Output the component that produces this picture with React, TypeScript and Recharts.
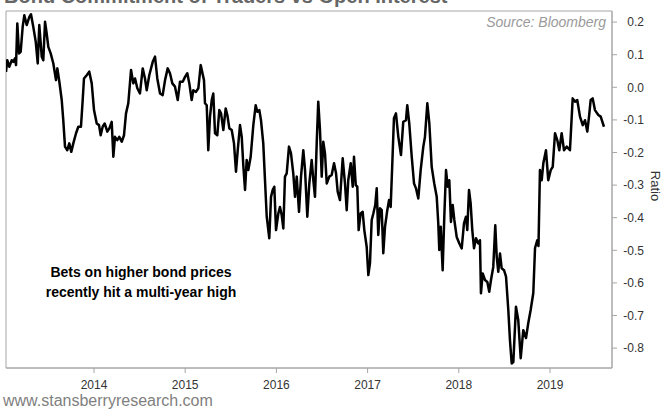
import { LineChart, Line, XAxis, YAxis, ReferenceArea } from 'recharts';

const FONT = '"Liberation Sans", Arial, sans-serif';

// weekly readings (decimal years)
const dates = [
  2013.035, 2013.049, 2013.071, 2013.098, 2013.115, 2013.134, 2013.145, 2013.159, 2013.178, 2013.196,
  2013.218, 2013.236, 2013.262, 2013.291, 2013.309, 2013.334, 2013.361, 2013.383, 2013.4, 2013.427,
  2013.444, 2013.463, 2013.481, 2013.499, 2013.525, 2013.554, 2013.583, 2013.598, 2013.62, 2013.646,
  2013.663, 2013.682, 2013.707, 2013.729, 2013.751, 2013.773, 2013.803, 2013.828, 2013.857, 2013.876,
  2013.89, 2013.92, 2013.948, 2013.975, 2014.0, 2014.03, 2014.055, 2014.073, 2014.095, 2014.117,
  2014.146, 2014.168, 2014.194, 2014.212, 2014.23, 2014.255, 2014.277, 2014.304, 2014.329, 2014.351,
  2014.376, 2014.406, 2014.431, 2014.45, 2014.475, 2014.504, 2014.534, 2014.559, 2014.578, 2014.606,
  2014.644, 2014.669, 2014.694, 2014.724, 2014.753, 2014.779, 2014.808, 2014.833, 2014.859, 2014.888,
  2014.918, 2014.943, 2014.973, 2014.998, 2015.023, 2015.045, 2015.071, 2015.089, 2015.118, 2015.144,
  2015.17, 2015.206, 2015.217, 2015.236, 2015.253, 2015.272, 2015.291, 2015.308, 2015.327, 2015.352,
  2015.374, 2015.393, 2015.418, 2015.444, 2015.462, 2015.484, 2015.51, 2015.535, 2015.557, 2015.576,
  2015.601, 2015.62, 2015.637, 2015.656, 2015.674, 2015.692, 2015.718, 2015.747, 2015.773, 2015.791,
  2015.813, 2015.831, 2015.856, 2015.875, 2015.894, 2015.922, 2015.941, 2015.959, 2015.977, 2015.996,
  2016.021, 2016.039, 2016.058, 2016.076, 2016.094, 2016.113, 2016.138, 2016.16, 2016.185, 2016.204,
  2016.223, 2016.248, 2016.27, 2016.295, 2016.314, 2016.339, 2016.361, 2016.387, 2016.405, 2016.423,
  2016.442, 2016.459, 2016.478, 2016.497, 2016.514, 2016.533, 2016.552, 2016.58, 2016.606, 2016.632,
  2016.654, 2016.672, 2016.697, 2016.727, 2016.752, 2016.771, 2016.788, 2016.815, 2016.837, 2016.851,
  2016.87, 2016.887, 2016.902, 2016.924, 2016.946, 2016.964, 2016.99, 2017.008, 2017.026, 2017.045,
  2017.063, 2017.084, 2017.1, 2017.117, 2017.136, 2017.155, 2017.172, 2017.191, 2017.216, 2017.235,
  2017.253, 2017.271, 2017.289, 2017.311, 2017.337, 2017.366, 2017.391, 2017.421, 2017.435, 2017.457,
  2017.484, 2017.509, 2017.531, 2017.556, 2017.582, 2017.611, 2017.629, 2017.655, 2017.677, 2017.703,
  2017.731, 2017.758, 2017.775, 2017.786, 2017.802, 2017.823, 2017.841, 2017.86, 2017.878, 2017.896,
  2017.914, 2017.933, 2017.951, 2017.977, 2018.006, 2018.032, 2018.057, 2018.079, 2018.093, 2018.112,
  2018.13, 2018.148, 2018.167, 2018.189, 2018.214, 2018.232, 2018.243, 2018.262, 2018.287, 2018.313,
  2018.334, 2018.353, 2018.378, 2018.4, 2018.416, 2018.433, 2018.452, 2018.47, 2018.496, 2018.518,
  2018.543, 2018.561, 2018.58, 2018.598, 2018.627, 2018.652, 2018.679, 2018.707, 2018.737, 2018.762,
  2018.788, 2018.817, 2018.836, 2018.861, 2018.874, 2018.89, 2018.909, 2018.927, 2018.956, 2018.981,
  2019.008, 2019.03, 2019.055, 2019.08, 2019.102, 2019.128, 2019.154, 2019.183, 2019.219, 2019.249,
  2019.274, 2019.299, 2019.329, 2019.359, 2019.384, 2019.409, 2019.428, 2019.446, 2019.468, 2019.493,
  2019.53, 2019.556, 2019.592,
];

const ratio = [
  0.047, 0.083, 0.063, 0.083, 0.078, 0.089, 0.068, 0.196, 0.104, 0.109,
  0.186, 0.221, 0.191, 0.216, 0.224, 0.186, 0.14, 0.073, 0.191, 0.094,
  0.083, 0.201, 0.165, 0.124, 0.104, 0.073, 0.022, 0.058, 0.017, -0.039,
  -0.101, -0.182, -0.193, -0.172, -0.198, -0.172, -0.141, -0.121, -0.121, -0.039,
  0.027, 0.037, 0.048, 0.012, -0.07, -0.111, -0.116, -0.147, -0.121, -0.111,
  -0.136, -0.126, -0.106, -0.213, -0.152, -0.162, -0.152, -0.167, -0.147, -0.08,
  -0.049, 0.053, 0.012, 0.027, -0.003, -0.019, 0.058, 0.027, -0.009, 0.037,
  0.078, 0.094, 0.027, -0.019, -0.024, 0.022, 0.058, 0.043, 0.012, 0.002,
  -0.039, 0.017, 0.017, 0.032, 0.043, 0.012, -0.039, -0.009, -0.014, -0.003,
  0.068, 0.022, -0.049, -0.055, -0.193, -0.09, -0.039, -0.019, -0.141, -0.147,
  -0.07, -0.08, -0.131, -0.065, -0.085, -0.126, -0.131, -0.172, -0.259, -0.193,
  -0.116, -0.152, -0.239, -0.315, -0.223, -0.254, -0.213, -0.116, -0.055, -0.075,
  -0.07, -0.101, -0.172, -0.285, -0.397, -0.463, -0.336, -0.315, -0.305, -0.438,
  -0.387, -0.367, -0.392, -0.433, -0.274, -0.264, -0.182, -0.203, -0.264, -0.336,
  -0.274, -0.382, -0.274, -0.193, -0.254, -0.397, -0.295, -0.223, -0.285, -0.336,
  -0.172, -0.044, -0.131, -0.274, -0.167, -0.203, -0.295, -0.274, -0.269, -0.233,
  -0.264, -0.32, -0.346, -0.218, -0.295, -0.377, -0.285, -0.233, -0.305, -0.213,
  -0.3, -0.305, -0.438, -0.387, -0.382, -0.438, -0.489, -0.576, -0.54, -0.407,
  -0.387, -0.361, -0.31, -0.453, -0.371, -0.377, -0.509, -0.428, -0.377, -0.346,
  -0.367, -0.233, -0.095, -0.08, -0.152, -0.208, -0.106, -0.101, -0.055, -0.111,
  -0.213, -0.295, -0.31, -0.341, -0.254, -0.182, -0.152, -0.049, -0.111, -0.244,
  -0.295, -0.336, -0.417, -0.499, -0.428, -0.561, -0.397, -0.254, -0.305, -0.285,
  -0.413, -0.361, -0.407, -0.459, -0.479, -0.494, -0.417, -0.397, -0.438, -0.315,
  -0.356, -0.438, -0.494, -0.463, -0.479, -0.469, -0.632, -0.571, -0.591, -0.597,
  -0.627, -0.591, -0.551, -0.423, -0.52, -0.566, -0.51, -0.555, -0.561, -0.581,
  -0.683, -0.775, -0.847, -0.843, -0.673, -0.714, -0.831, -0.745, -0.769, -0.723,
  -0.683, -0.631, -0.493, -0.469, -0.487, -0.254, -0.285, -0.233, -0.193, -0.285,
  -0.254, -0.244, -0.141, -0.162, -0.193, -0.141, -0.193, -0.182, -0.193, -0.034,
  -0.044, -0.039, -0.09, -0.116, -0.101, -0.136, -0.09, -0.039, -0.034, -0.07,
  -0.085, -0.09, -0.121,
];

const xTicks = [2014, 2015, 2016, 2017, 2018, 2019];
const yTicks = [0.2, 0.1, 0, -0.1, -0.2, -0.3, -0.4, -0.5, -0.6, -0.7, -0.8];
const xDomain: [number, number] = [2013.035, 2019.68];
const yDomain: [number, number] = [-0.861, 0.234];

const data = dates.map((d, i) => ({ date: d, ratio: ratio[i] }));

function RightTick(props: any) {
  const { x, y, payload } = props;
  return (
    <text x={x + 25} y={y} dy="0.355em" textAnchor="end" fontSize={12} fill="#333" fontFamily={FONT}>
      {Number(payload.value).toFixed(1)}
    </text>
  );
}

export default function App() {
  return (
    <div style={{ position: 'absolute', left: 0, top: 0, width: 663, height: 410, background: '#fff', overflow: 'hidden' }}>
      <LineChart width={663} height={410} data={data} margin={{ top: 11, right: 0, bottom: 0, left: 6 }}>
        <XAxis
          dataKey="date"
          type="number"
          domain={xDomain}
          ticks={xTicks}
          interval={0}
          allowDataOverflow
          height={42}
          tickSize={5}
          tickMargin={7}
          axisLine={{ stroke: '#a6a6a6' }}
          tickLine={{ stroke: '#a6a6a6' }}
          tick={{ fontSize: 12, fill: '#333', fontFamily: FONT }}
          tickFormatter={(v) => String(v)}
        />
        <YAxis
          orientation="right"
          type="number"
          domain={yDomain}
          ticks={yTicks}
          interval={0}
          allowDataOverflow
          width={51}
          tickSize={5}
          axisLine={{ stroke: '#a6a6a6' }}
          tickLine={{ stroke: '#a6a6a6' }}
          tick={<RightTick />}
        />
        <ReferenceArea
          x1={xDomain[0]}
          x2={xDomain[1]}
          y1={yDomain[0]}
          y2={yDomain[1]}
          fill="none"
          fillOpacity={0}
          stroke="#a6a6a6"
          ifOverflow="visible"
        />
        <Line
          type="linear"
          dataKey="ratio"
          stroke="#000"
          strokeWidth={2.5}
          strokeLinejoin="round"
          dot={false}
          activeDot={false}
          isAnimationActive={false}
        />
      </LineChart>
      <svg width={663} height={410} style={{ position: 'absolute', left: 0, top: 0, pointerEvents: 'none' }}>
        <text x={4} y={3} fontSize={20} fontWeight="bold" fill="#666" fontFamily={FONT}>
          Bond Commitment of Traders vs Open Interest
        </text>
        <text x={606} y={27} textAnchor="end" fontSize={14} fontStyle="italic" fill="#9a9a9a" fontFamily={FONT}>
          Source: Bloomberg
        </text>
        <text x={141} y={277} textAnchor="middle" fontSize={14} fontWeight="bold" fill="#000" fontFamily={FONT}>
          Bets on higher bond prices
        </text>
        <text x={141} y={297} textAnchor="middle" fontSize={14} fontWeight="bold" fill="#000" fontFamily={FONT}>
          recently hit a multi-year high
        </text>
        <text x={651} y={186} textAnchor="middle" fontSize={13} fill="#333" fontFamily={FONT} transform="rotate(90 651 186)">
          Ratio
        </text>
        <text x={3} y={406} fontSize={16} fill="#808080" fontFamily={FONT}>
          www.stansberryresearch.com
        </text>
      </svg>
    </div>
  );
}
